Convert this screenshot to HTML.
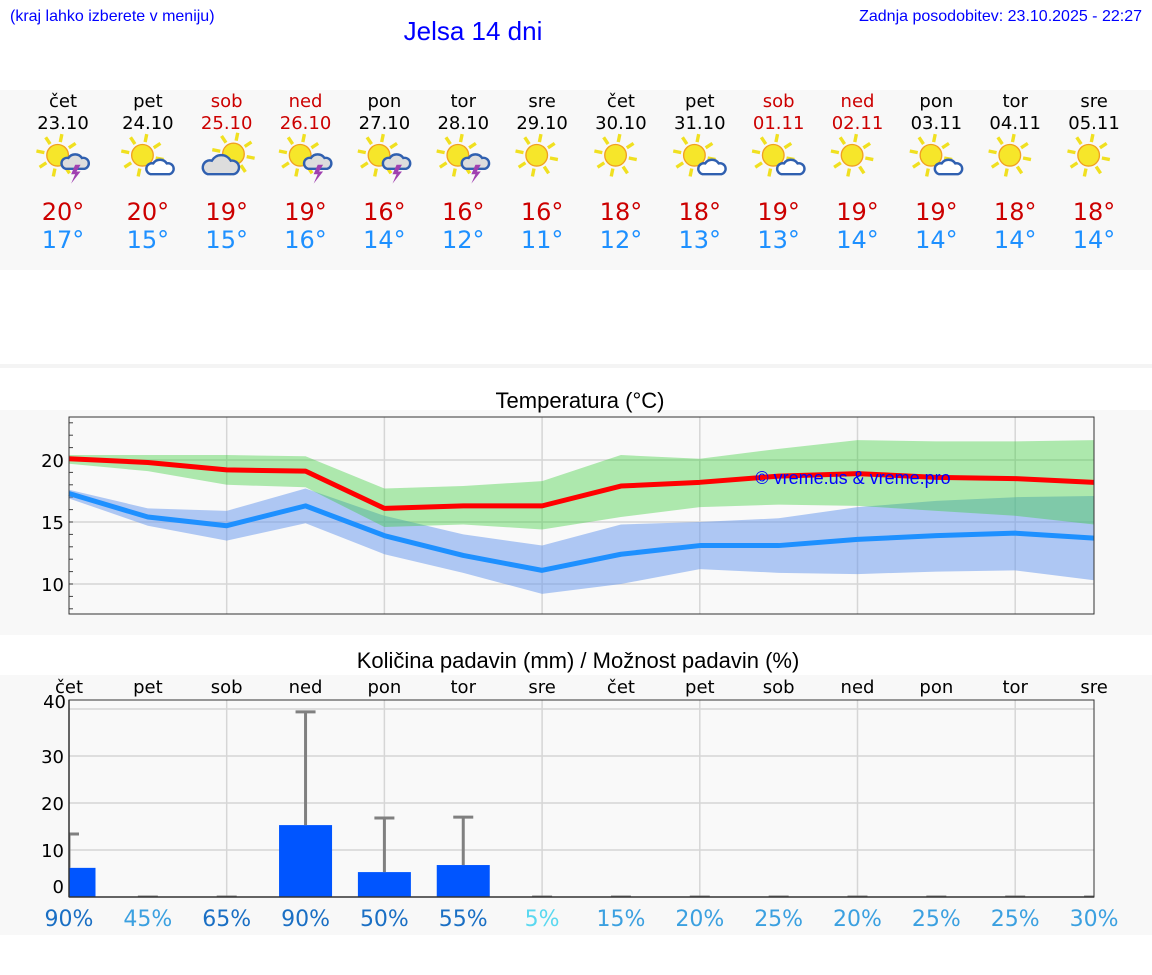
<!DOCTYPE html>
<html><head><meta charset="utf-8"><style>
body{margin:0;background:#fff;width:1152px;height:975px;overflow:hidden}
svg{display:block}
text{font-family:"DejaVu Sans","Liberation Sans",sans-serif}
</style></head><body>
<svg id="s" width="1152" height="975" xmlns="http://www.w3.org/2000/svg">
<rect x="0" y="90" width="1152" height="180" fill="#f8f8f8"/>
<rect x="0" y="364" width="1152" height="4" fill="#f4f4f4"/>
<rect x="0" y="410" width="1152" height="225" fill="#f8f8f8"/>
<rect x="0" y="675" width="1152" height="260" fill="#f8f8f8"/>
<text x="10" y="21" font-size="16" fill="#0000ff" style="font-family:'Liberation Sans',sans-serif">(kraj lahko izberete v meniju)</text>
<text x="473" y="40" font-size="26" fill="#0000ff" text-anchor="middle" style="font-family:'Liberation Sans',sans-serif">Jelsa 14 dni</text>
<text x="1142" y="21" font-size="16" fill="#0000ff" text-anchor="end" style="font-family:'Liberation Sans',sans-serif">Zadnja posodobitev: 23.10.2025 - 22:27</text>
<text x="580" y="408" font-size="22" text-anchor="middle" style="font-family:'Liberation Sans',sans-serif">Temperatura (°C)</text>
<text x="578" y="668" font-size="22" text-anchor="middle" style="font-family:'Liberation Sans',sans-serif">Količina padavin (mm) / Možnost padavin (%)</text>
<g id="hdr"></g><g id="temp"></g><g id="prec"></g>
</svg>
<script>
const days=["čet","pet","sob","ned","pon","tor","sre","čet","pet","sob","ned","pon","tor","sre"];
const dates=["23.10","24.10","25.10","26.10","27.10","28.10","29.10","30.10","31.10","01.11","02.11","03.11","04.11","05.11"];
const icons=["storm","cloud","bigcloud","storm","storm","storm","sun","sun","cloud","cloud","sun","cloud","sun","sun"];
const hiLabels=[20,20,19,19,16,16,16,18,18,19,19,19,18,18];
const loLabels=[17,15,15,16,14,12,11,12,13,13,14,14,14,14];
const tMax=[20.1,19.8,19.2,19.1,16.1,16.3,16.3,17.9,18.2,18.7,18.9,18.6,18.5,18.2];
const tMin=[17.3,15.4,14.7,16.3,13.9,12.3,11.1,12.4,13.1,13.1,13.6,13.9,14.1,13.7];
const maxHi=[20.4,20.4,20.4,20.3,17.7,17.9,18.3,20.4,20.1,20.9,21.6,21.5,21.5,21.6];
const maxLo=[19.7,19.1,18.0,17.8,14.6,14.8,14.4,15.4,16.2,16.4,16.3,15.9,15.5,14.8];
const minHi=[17.6,16.1,15.9,17.7,15.5,14.0,13.1,14.8,15.0,15.3,16.2,16.7,17.0,17.1];
const minLo=[16.9,14.7,13.5,14.9,12.4,10.9,9.2,10.0,11.2,10.9,10.8,11.0,11.1,10.3];
const tTicks=[10,15,20];
const precip=[6.2,0,0,15.3,5.3,6.8,0,0,0,0,0,0,0,0];
const precipErr=[13.4,0,0,39.4,16.8,17,0,0,0,0,0,0,0,0];
const chance=[90,45,65,90,50,55,5,15,20,25,20,25,25,30];
const pTicks=[0,10,20,30,40];
const weekend=[2,3,9,10];

const NS="http://www.w3.org/2000/svg";
function mk(p,t,a){const e=document.createElementNS(NS,t);for(const k in a)e.setAttribute(k,a[k]);p.appendChild(e);return e;}
const X0=69,DX=78.85;
const xd=i=>X0+i*DX;
const yT=v=>460-(v-20)*12.4;
const yP=v=>897-v*4.7;

const hdr=document.getElementById('hdr');
days.forEach((d,i)=>{
  const cx=i==0?63:xd(i);
  const col=weekend.includes(i)?"#cc0000":"#000";
  let t=mk(hdr,'text',{x:cx,y:107,'font-size':18,'text-anchor':'middle',fill:col});t.textContent=d;
  
  
  t=mk(hdr,'text',{x:cx,y:129,'font-size':18,'text-anchor':'middle',fill:col});t.textContent=dates[i];
  
  
  const g=mk(hdr,'g',{transform:`translate(${cx},158) scale(1.35)`});
  
  
  const ic=icons[i];
  const sx=ic=="bigcloud"?5:-4, sy=ic=="bigcloud"?-3:-2;
  for(let k=0;k<8;k++){const a=k*Math.PI/4+0.2;mk(g,'line',{x1:sx+Math.cos(a)*10,y1:sy+Math.sin(a)*10,x2:sx+Math.cos(a)*16,y2:sy+Math.sin(a)*16,stroke:'#f0e020','stroke-width':2.5});}
  mk(g,'circle',{cx:sx,cy:sy,r:8,fill:'#f6e62a',stroke:'#f0a020','stroke-width':1});
  if(ic=="cloud"){mk(g,'path',{d:'M2 12 a4 4 0 0 1 2-8 a6 6 0 0 1 10 0 a4 4 0 0 1 2 8 z',fill:'#fff',stroke:'#3060b0','stroke-width':1.8});}
  if(ic=="storm"){mk(g,'path',{d:'M2 8 a4 4 0 0 1 2-8 a6 6 0 0 1 10 0 a4 4 0 0 1 2 8 z',fill:'#ddd',stroke:'#3060b0','stroke-width':1.8});mk(g,'path',{d:'M9 5 l-3 7 h3 l-3 7 l7 -9 h-3 l3 -5 z',fill:'#a040b0'});}
  if(ic=="bigcloud"){mk(g,'path',{d:'M-14 12 a5 5 0 0 1 3-10 a8 8 0 0 1 14 0 a5 5 0 0 1 2 10 z',fill:'#ddd',stroke:'#3060b0','stroke-width':1.8});}
  t=mk(hdr,'text',{x:cx,y:220,'font-size':24,'text-anchor':'middle',fill:'#cc0000'});t.textContent=hiLabels[i]+"°";
  
  
  t=mk(hdr,'text',{x:cx,y:248,'font-size':24,'text-anchor':'middle',fill:'#1e90ff'});t.textContent=loLabels[i]+"°";
  
  
});

const tg=document.getElementById('temp');
const PT=417,PB=614,PR=1094;
mk(tg,'rect',{x:X0,y:PT,width:PR-X0,height:PB-PT,fill:'#f9f9f9'});
tTicks.forEach(v=>{const l=mk(tg,'line',{x1:X0,x2:PR,y1:yT(v),y2:yT(v),stroke:'#d6d6d6','stroke-width':1.5});
  
  
  const t=mk(tg,'text',{x:64,y:yT(v)+7,'font-size':18,'text-anchor':'end'});t.textContent=v;
  
  });
for(let v=8;v<=23;v++){mk(tg,'line',{x1:X0,x2:X0+4,y1:yT(v),y2:yT(v),stroke:'#444'});}
for(let i=2;i<14;i+=2)mk(tg,'line',{x1:xd(i),x2:xd(i),y1:PT,y2:PB,stroke:'#d6d6d6','stroke-width':1.5});
function band(hi,lo,fill,name){let d='M'+hi.map((v,i)=>xd(i)+' '+yT(v)).join(' L')+' L'+lo.map((v,i)=>xd(i)+' '+yT(v)).reverse().join(' L')+'Z';
  const p=mk(tg,'path',{d,fill});
  
  }
band(minHi,minLo,'rgba(100,149,237,0.5)','min-temp-range');
band(maxHi,maxLo,'rgba(50,205,50,0.38)','max-temp-range');
function line(v,c,name){const p=mk(tg,'polyline',{points:v.map((y,i)=>xd(i)+','+yT(y)).join(' '),fill:'none',stroke:c,'stroke-width':5,'stroke-linejoin':'round'});
  
  }
line(tMin,'#1e90ff','min-temp-line');
line(tMax,'#ff0000','max-temp-line');
mk(tg,'rect',{x:X0,y:PT,width:PR-X0,height:PB-PT,fill:'none',stroke:'#333','stroke-width':1});
let wt=mk(tg,'text',{x:853,y:484,'font-size':18,'text-anchor':'middle',fill:'#0000ff',style:"font-family:'Liberation Sans',sans-serif"});wt.textContent="© vreme.us & vreme.pro";



const pg=document.getElementById('prec');
const QT=700,QB=897;
mk(pg,'rect',{x:X0,y:QT,width:PR-X0,height:QB-QT,fill:'#f9f9f9'});
pTicks.forEach(v=>{if(v>0){const l=mk(pg,'line',{x1:X0,x2:PR,y1:yP(v),y2:yP(v),stroke:'#d6d6d6','stroke-width':1.5});
  
  }
  const ty=v==0?893:(v==40?708:yP(v)+7);
  const t=mk(pg,'text',{x:v==40?66:64,y:ty,'font-size':18,'text-anchor':'end'});t.textContent=v;
  
  });
for(let i=2;i<14;i+=2)mk(pg,'line',{x1:xd(i),x2:xd(i),y1:QT,y2:QB,stroke:'#d6d6d6','stroke-width':1.5});
const cp=mk(pg,'clipPath',{id:'pc'});mk(cp,'rect',{x:X0,y:QT-20,width:PR-X0,height:QB-QT+20});
const inner=mk(pg,'g',{'clip-path':'url(#pc)'});
precip.forEach((v,i)=>{
  const b=mk(inner,'rect',{x:xd(i)-26.5,y:yP(v),width:53,height:QB-yP(v),fill:'#0055ff'});
  
  
  const e=precipErr[i];
  mk(inner,'line',{x1:xd(i),x2:xd(i),y1:yP(v),y2:yP(e),stroke:'#808080','stroke-width':3});
  const c=mk(inner,'line',{x1:xd(i)-10,x2:xd(i)+10,y1:yP(e),y2:yP(e),stroke:'#808080','stroke-width':3});
  
  
});
mk(pg,'line',{x1:X0,x2:PR,y1:QB,y2:QB,stroke:'#333','stroke-width':1.5});
mk(pg,'line',{x1:X0,x2:X0,y1:QT,y2:QB,stroke:'#333','stroke-width':1.5});
mk(pg,'rect',{x:X0,y:QT,width:PR-X0,height:QB-QT,fill:'none',stroke:'#333','stroke-width':1});
days.forEach((d,i)=>{
  let t=mk(pg,'text',{x:xd(i),y:693,'font-size':18,'text-anchor':'middle'});t.textContent=d;
  
  
  const c=chance[i];const col=c<10?'#5ad8f0':(c>=50?'#1a6fc4':'#3ba0e0');
  t=mk(pg,'text',{x:xd(i),y:926,'font-size':22,'text-anchor':'middle',fill:col});t.textContent=c+"%";
  
  
});
</script>
</body></html>
